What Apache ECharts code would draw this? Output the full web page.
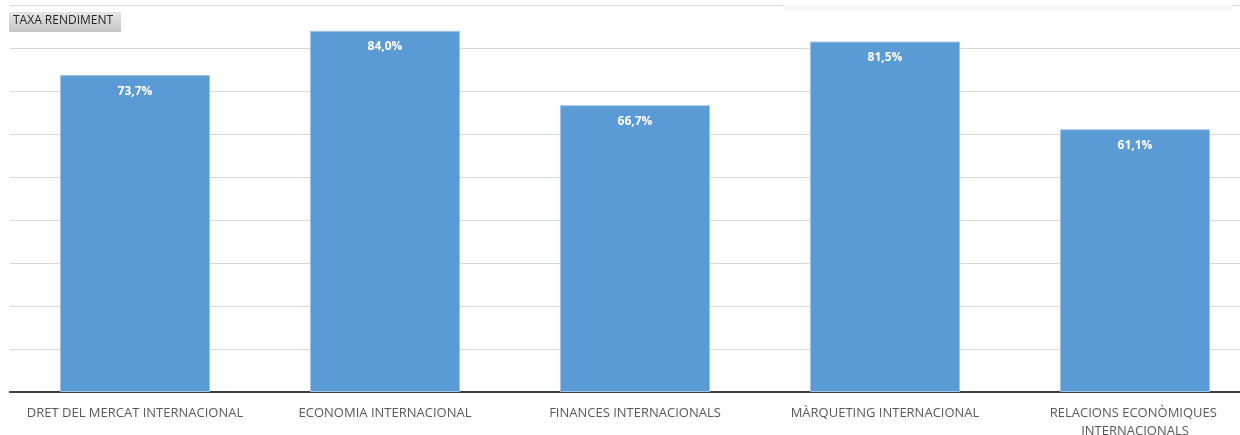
<!DOCTYPE html>
<html>
<head>
<meta charset="utf-8">
<script src="https://cdn.jsdelivr.net/npm/echarts@6/dist/echarts.min.js"></script>
<style>
html,body{margin:0;padding:0;background:#fff;}
#chart{width:1240px;height:435px;}
</style>
</head>
<body>
<div id="chart"></div>
<script>
const categories = ['DRET DEL MERCAT INTERNACIONAL', 'ECONOMIA INTERNACIONAL', 'FINANCES INTERNACIONALS', 'MÀRQUETING INTERNACIONAL', 'RELACIONS ECONÒMIQUES INTERNACIONALS'];
const rendiment = [73.7, 84.0, 66.7, 81.5, 61.1];
const filterLabel = 'TAXA RENDIMENT';

const chart = echarts.init(document.getElementById('chart'), null, {renderer: 'canvas'});
const font = '"Open Sans", "Noto Sans", sans-serif';
chart.setOption({
  animation: false,
  backgroundColor: '#ffffff',
  grid: {left: 10, width: 1250, top: 5, height: 387, containLabel: false, outerBoundsMode: 'none'},
  xAxis: {
    type: 'category',
    data: categories,
    axisLine: {show: true, lineStyle: {color: '#404040', width: 2}},
    axisTick: {show: false},
    axisLabel: {
      interval: 0, color: '#595959', fontSize: 13, fontFamily: font,
      margin: 12, width: 230, overflow: 'break', lineHeight: 18
    }
  },
  yAxis: {
    type: 'value', min: 0, max: 90, interval: 10,
    axisLine: {show: false}, axisTick: {show: false}, axisLabel: {show: false},
    splitLine: {lineStyle: {color: '#d9d9d9', width: 1}}
  },
  series: [{
    type: 'bar',
    data: rendiment,
    barWidth: '60%',
    itemStyle: {color: '#5b9bd5', borderColor: '#9fc3e7', borderWidth: 1},
    label: {
      show: true, position: 'insideTop', distance: 10,
      color: '#ffffff', fontWeight: 'bold', fontSize: 12, fontFamily: font,
      formatter: p => p.value.toFixed(1).replace('.', ',') + '%'
    }
  }],
  graphic: [
    {type: 'rect', left: 783, top: 5, shape: {width: 450, height: 6}, style: {fill: '#f7f7f7'}, z: 10},
    {type: 'group', left: 9, top: 12, z: 20, children: [
      {type: 'rect', shape: {width: 112, height: 20},
       style: {fill: new echarts.graphic.LinearGradient(0, 0, 0, 1, [{offset: 0, color: '#e6e6e6'}, {offset: 1, color: '#c4c4c4'}])}},
      {type: 'text', left: 4, top: 3, style: {text: filterLabel, fill: '#262626', fontSize: 12, fontFamily: font}}
    ]}
  ]
});
</script>
</body>
</html>
